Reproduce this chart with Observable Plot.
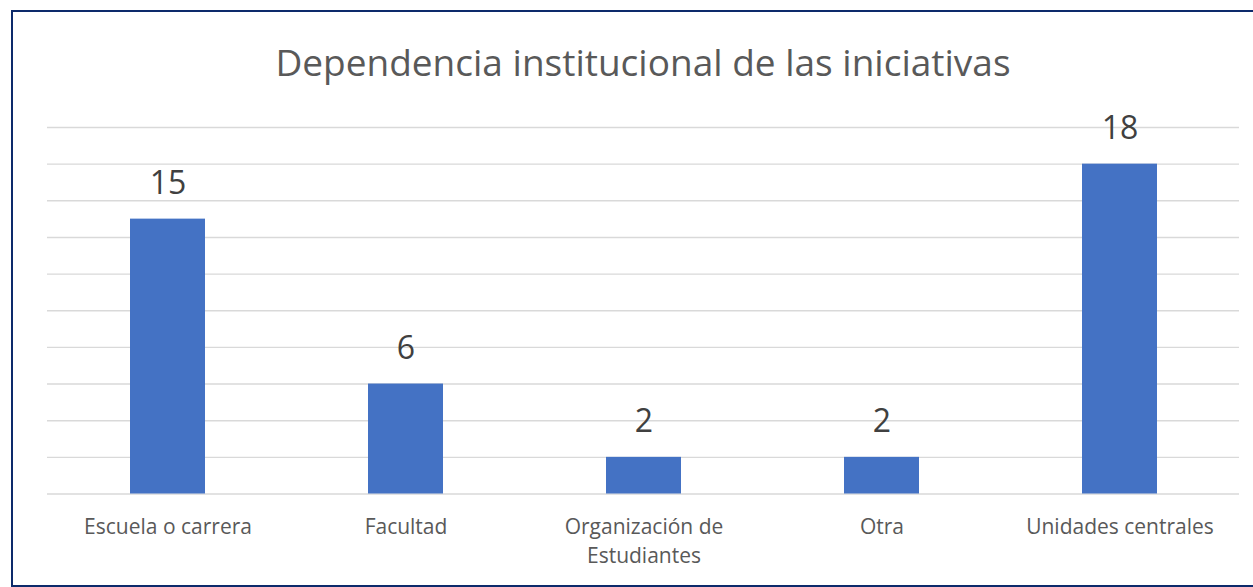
<!DOCTYPE html>
<html>
<head>
<meta charset="utf-8">
<script src="https://cdn.jsdelivr.net/npm/d3@7"></script>
<script src="https://cdn.jsdelivr.net/npm/@observablehq/plot@0.6"></script>
<style>
  html, body { margin: 0; padding: 0; background: #fff; }
  body { width: 1253px; height: 587px; overflow: hidden; position: relative; font-family: "Open Sans", sans-serif; }
  #title { position: relative; height: 100px; }
  #title span { position: absolute; left: 643px; top: 43px; transform: translateX(-50%); white-space: nowrap; font-size: 37px; line-height: 1; color: #595959; }
  #frame { position: absolute; left: 11px; top: 10px; width: 1260px; height: 577px; border: 2px solid #0d2a6b; box-sizing: border-box; pointer-events: none; }
  #chart svg { display: block; }
</style>
</head>
<body>
<div id="title"><span>Dependencia institucional de las iniciativas</span></div>
<div id="chart"></div>
<div id="frame"></div>
<script>
const categories = ["Escuela o carrera", "Facultad", "Organización de Estudiantes", "Otra", "Unidades centrales"];
const tickLabels = ["Escuela o carrera", "Facultad", "Organización de\nEstudiantes", "Otra", "Unidades centrales"];
const values = [15, 6, 2, 2, 18];
const gridTicks = [0, 2, 4, 6, 8, 10, 12, 14, 16, 18, 20];

const data = categories.map((c, i) => ({category: c, value: values[i]}));
const labelOf = new Map(categories.map((c, i) => [c, tickLabels[i]]));

const chart = Plot.plot({
  width: 1253,
  height: 487,
  marginTop: 27,
  marginBottom: 93.5,
  marginLeft: 47,
  marginRight: 14,
  style: {fontFamily: "'Open Sans', sans-serif", background: "transparent"},
  x: {domain: categories, paddingInner: 0.686, paddingOuter: 0.343, label: null},
  y: {domain: [0, 20], axis: null},
  marks: [
    Plot.ruleY(gridTicks, {stroke: "#d9d9d9", strokeWidth: 1.4}),
    Plot.barY(data, {x: "category", y: "value", fill: "#4472c4"}),
    Plot.text(data, {x: "category", y: "value", text: d => String(d.value), dy: -25, lineAnchor: "bottom", fontSize: 32, fill: "#404040"}),
    Plot.axisX({tickSize: 0, tickPadding: 19, fontSize: 21, fill: "#595959", lineHeight: 1.38, tickFormat: d => labelOf.get(d), label: null})
  ]
});
document.getElementById("chart").appendChild(chart);
</script>
</body>
</html>
